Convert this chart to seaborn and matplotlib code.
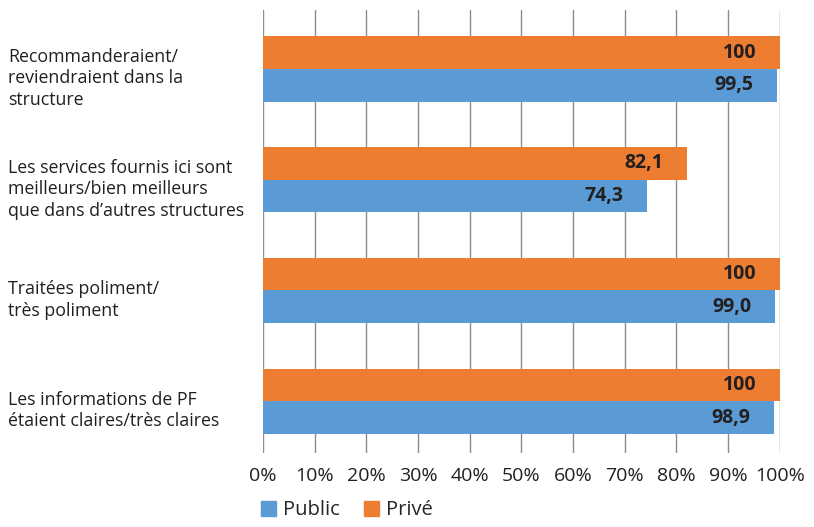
import matplotlib.pyplot as plt
import matplotlib.patches as mpatches
import matplotlib.transforms as mtransforms
import pandas as pd
import seaborn as sns

CATEGORIES = [
    'Recommanderaient/\nreviendraient dans la\nstructure',
    'Les services fournis ici sont\nmeilleurs/bien meilleurs\nque dans d\u2019autres structures',
    'Traitées poliment/\ntrès poliment',
    'Les informations de PF\nétaient claires/très claires',
]
PRIVE = [100, 82.1, 100, 100]
PUBLIC = [99.5, 74.3, 99.0, 98.9]
SERIES = ['Privé', 'Public']
COLORS = {'Privé': '#ED7D31', 'Public': '#5B9BD5'}
XTICKS = list(range(0, 101, 10))

sns.set_theme(style='white')
plt.rcParams['font.family'] = ['Open Sans', 'DejaVu Sans']

df = pd.DataFrame({
    'cat': CATEGORIES * 2,
    'val': PRIVE + PUBLIC,
    'serie': ['Privé'] * 4 + ['Public'] * 4,
})

fig = plt.figure(figsize=(8.14, 5.27), dpi=100)
ax = fig.add_axes([0.323, 0.140, 0.635, 0.841])

sns.barplot(data=df, y='cat', x='val', hue='serie', hue_order=SERIES,
            palette=COLORS, orient='h', width=0.59, saturation=1,
            linewidth=0, legend=False, ax=ax, zorder=3)

ax.set_xlim(0, 100)
ax.set_ylim(3.47, -0.533)
ax.set_xticks(XTICKS)
ax.set_xticklabels([f'{t}%' for t in XTICKS], fontsize=14, color='#231f20')
ax.tick_params(axis='x', length=0, pad=10)
ax.set_yticks([])
ax.set_xlabel('')
ax.set_ylabel('')
for s in ax.spines.values():
    s.set_visible(False)
ax.grid(axis='x', color='#8c8c8c', linewidth=1, zorder=0)

for cont in ax.containers:
    for bar in cont:
        v = bar.get_width()
        txt = '100' if v == 100 else f'{v:.1f}'.replace('.', ',')
        ax.annotate(txt, (v, bar.get_y() + bar.get_height() / 2),
                    xytext=(-17, 0), textcoords='offset points',
                    ha='right', va='center', fontsize=14,
                    fontweight='bold', color='#231f20', zorder=5)

trans = mtransforms.blended_transform_factory(fig.transFigure, ax.transData)
for i, c in enumerate(CATEGORIES):
    ax.text(8 / 814, i + 0.085, c, transform=trans,
            ha='left', va='center', fontsize=12.8, color='#231f20',
            linespacing=1.25)

handles = [mpatches.Patch(color=COLORS['Public'], label='Public'),
           mpatches.Patch(color=COLORS['Privé'], label='Privé')]
fig.legend(handles=handles, loc='lower left', bbox_to_anchor=(0.298, -0.022),
           ncol=2, frameon=False, fontsize=14.5, handlelength=0.75,
           handleheight=0.75, handletextpad=0.35, columnspacing=1.2)

fig.savefig('out.png', dpi=100)
